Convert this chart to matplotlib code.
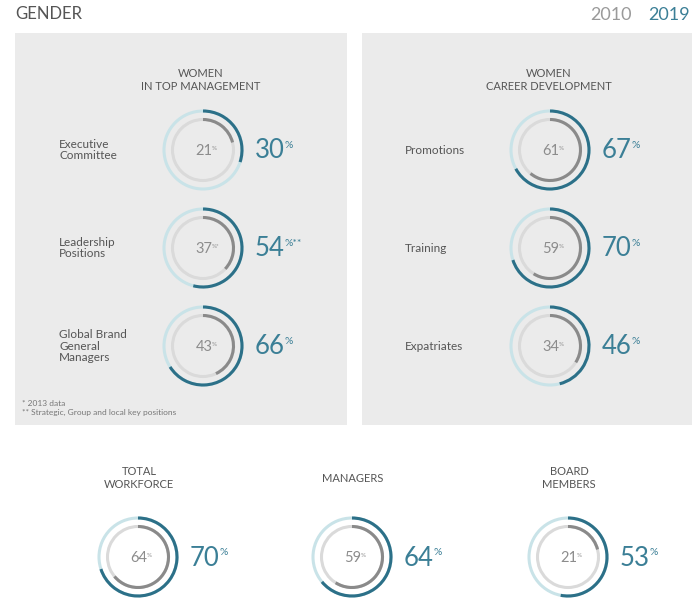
import matplotlib
matplotlib.use("Agg")
import matplotlib.pyplot as plt
from matplotlib.patches import Arc, Rectangle

# ---- data ----
mgmt_labels = ["Executive\nCommittee", "Leadership\nPositions", "Global Brand\nGeneral\nManagers"]
mgmt_2010 = [21, 37, 43]
mgmt_2019 = [30, 54, 66]
mgmt_mark_2010 = ["", "*", ""]
mgmt_mark_2019 = ["", "**", ""]

career_labels = ["Promotions", "Training", "Expatriates"]
career_2010 = [61, 59, 34]
career_2019 = [67, 70, 46]

overall_labels = ["TOTAL\nWORKFORCE", "MANAGERS", "BOARD\nMEMBERS"]
overall_2010 = [64, 59, 21]
overall_2019 = [70, 64, 53]

years = ["2010", "2019"]
footnotes = ["* 2013 data", "** Strategic, Group and local key positions"]

# ---- style ----
FONT = "Lato"
DARK_TEAL = "#2c7088"
LIGHT_TEAL = "#c9e3e8"
TEXT_TEAL = "#3b7f96"
DARK_GRAY = "#8a8a8a"
LIGHT_GRAY = "#dadada"
TEXT_GRAY = "#555555"
PANEL = "#ebebeb"

fig = plt.figure(figsize=(7.0, 5.99), dpi=100)
ax = fig.add_axes([0, 0, 1, 1])
ax.set_xlim(0, 700)
ax.set_ylim(599, 0)
ax.set_aspect("equal")
ax.axis("off")


def ring(cx, cy, v2010, v2019, mark10="", mark19=""):
    R, r, lw = 39, 30.5, 2.2
    ax.add_patch(Arc((cx, cy), 2 * R, 2 * R, theta1=0, theta2=360, color=LIGHT_TEAL, lw=lw))
    ax.add_patch(Arc((cx, cy), 2 * r, 2 * r, theta1=0, theta2=360, color=LIGHT_GRAY, lw=lw))
    # y axis inverted: angles measured clockwise on screen
    ax.add_patch(Arc((cx, cy), 2 * R, 2 * R, theta1=-90, theta2=-90 + 3.6 * v2019,
                     color=DARK_TEAL, lw=lw))
    ax.add_patch(Arc((cx, cy), 2 * r, 2 * r, theta1=-90, theta2=-90 + 3.6 * v2010,
                     color=DARK_GRAY, lw=lw))
    t = ax.text(cx + 1, cy + 1, str(v2010), ha="center", va="center", fontsize=10.5,
                color="#8c8c8c", family=FONT)
    ax.annotate("%" + mark10, xy=(0.98, 0.85), xycoords=t, ha="left", va="top",
                fontsize=4.5, color="#8c8c8c", family=FONT)
    t2 = ax.text(cx + 52, cy + 1, str(v2019), ha="left", va="center", fontsize=18.5,
                 color=TEXT_TEAL, family=FONT)
    ax.annotate("%" + mark19, xy=(0.98, 0.9), xycoords=t2, ha="left", va="top",
                fontsize=7.5, color=TEXT_TEAL, family=FONT)


# header
ax.text(15, 14, "GENDER", ha="left", va="center", fontsize=12, color="#555555",
        family=FONT)
ax.text(632, 15, years[0], ha="right", va="center", fontsize=13, color="#9a9a9a",
        family=FONT)
ax.text(690, 15, years[1], ha="right", va="center", fontsize=13, color=TEXT_TEAL,
        family=FONT)

# panels
ax.add_patch(Rectangle((15, 33), 332, 392, color=PANEL, lw=0, zorder=0))
ax.add_patch(Rectangle((362, 33), 330, 392, color=PANEL, lw=0, zorder=0))

ax.text(201, 80, "WOMEN\nIN TOP MANAGEMENT", ha="center", va="center", fontsize=8,
        color=TEXT_GRAY, family=FONT, linespacing=1.15)
ax.text(549, 80, "WOMEN\nCAREER DEVELOPMENT", ha="center", va="center", fontsize=8,
        color=TEXT_GRAY, family=FONT, linespacing=1.15)

row_y = [150, 248, 346]
for i, y in enumerate(row_y):
    ax.text(59, y, mgmt_labels[i], ha="left", va="center", fontsize=8.5, color=TEXT_GRAY,
            family=FONT, linespacing=1.1)
    ring(203, y, mgmt_2010[i], mgmt_2019[i], mgmt_mark_2010[i], mgmt_mark_2019[i])

    ax.text(405, y, career_labels[i], ha="left", va="center", fontsize=8.5, color=TEXT_GRAY,
            family=FONT)
    ring(550, y, career_2010[i], career_2019[i])

ax.text(22, 403, footnotes[0], ha="left", va="center", fontsize=6, color="#777777",
        family=FONT)
ax.text(22, 412, footnotes[1], ha="left", va="center", fontsize=6, color="#777777",
        family=FONT)

# bottom row
bottom_x = [138, 352, 568]
for i, x in enumerate(bottom_x):
    ax.text(x + 1, 478, overall_labels[i], ha="center", va="center", fontsize=8,
            color=TEXT_GRAY, family=FONT, linespacing=1.15)
    ring(x, 557, overall_2010[i], overall_2019[i])

fig.savefig("out.png", dpi=100, facecolor="white")
